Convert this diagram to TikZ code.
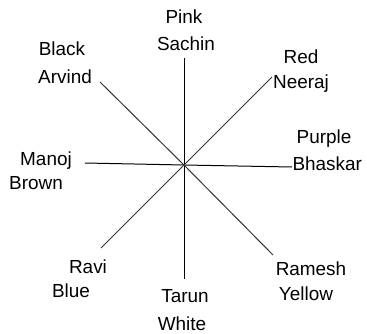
\documentclass[tikz,border=0pt]{standalone}
\usepackage{fontspec}
\setmainfont{Liberation Sans}
\tikzset{lbl/.style={anchor=base,inner sep=0pt,font=\fontsize{19}{23}\selectfont}}
\begin{document}
\begin{tikzpicture}[x=1bp,y=-1bp,line width=1bp]
\useasboundingbox (0,0) rectangle (367,334);
\coordinate (o) at (184,165);
\coordinate (n) at (184,58);
\coordinate (s) at (184,279);
\coordinate (w) at (85,163);
\coordinate (e) at (292,167);
\coordinate (nw) at (100,82);
\coordinate (ne) at (272,77);
\coordinate (sw) at (101,248);
\coordinate (se) at (273,255);
\draw (o) -- (n);
\draw (o) -- (s);
\draw (o) -- (w);
\draw (o) -- (e);
\draw[black!80] (o) -- (nw);
\draw[black!80] (o) -- (ne);
\draw[black!80] (o) -- (sw);
\draw[black!80] (o) -- (se);
% north
\node[lbl] (pink) at (184,23) {Pink};
\node[lbl] (sachin) at (186,50) {Sachin};
% north-west
\node[lbl] (black) at (62,55) {Black};
\node[lbl] (arvind) at (65,83) {Arvind};
% north-east
\node[lbl] (red) at (301,63) {Red};
\node[lbl] (neeraj) at (301,88) {Neeraj};
% east
\node[lbl] (purple) at (324,143) {Purple};
\node[lbl,anchor=base west] (bhaskar) at (292,170) {Bhaskar};
% west
\node[lbl] (manoj) at (46,165) {Manoj};
\node[lbl] (brown) at (36,189) {Brown};
% south-west
\node[lbl] (ravi) at (88,273) {Ravi};
\node[lbl] (blue) at (71,297) {Blue};
% south
\node[lbl] (tarun) at (185,302) {Tarun};
\node[lbl] (white) at (182,330) {White};
% south-east
\node[lbl] (ramesh) at (311,275) {Ramesh};
\node[lbl] (yellow) at (306,300) {Yellow};
\end{tikzpicture}
\end{document}
